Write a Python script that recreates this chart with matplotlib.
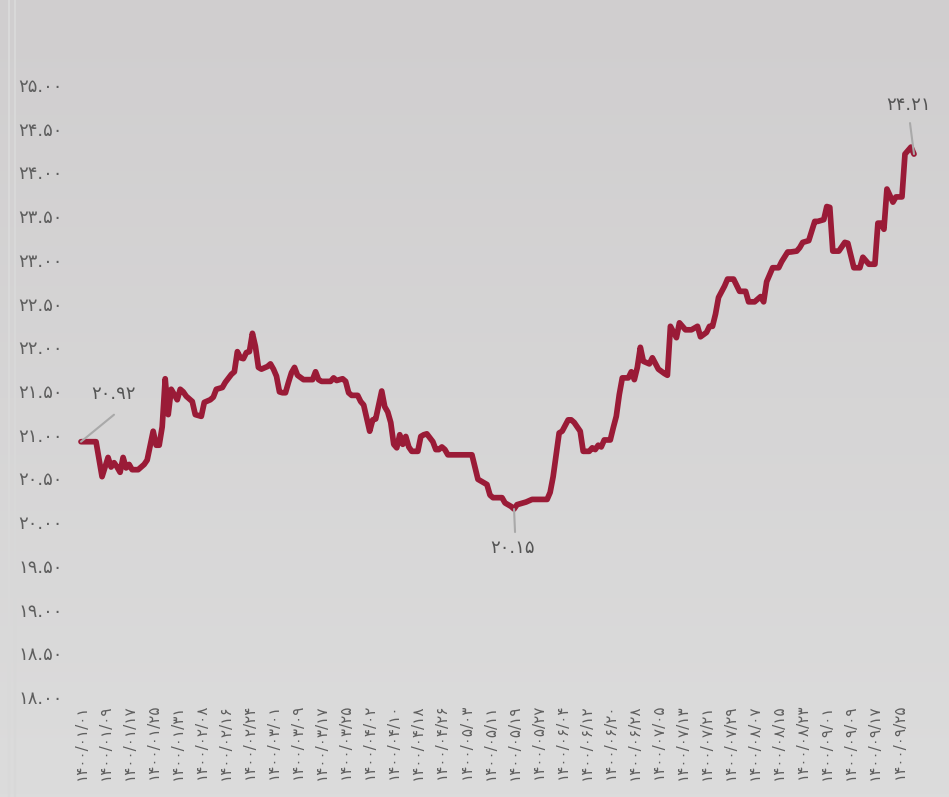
import numpy as np
import matplotlib.pyplot as plt
from matplotlib.colors import LinearSegmentedColormap

plt.rcParams['font.family'] = ['DejaVu Sans']

# trading day index (from 1400/01/01) and rate
days = [0, 5, 7, 9, 10, 11, 12, 13, 14, 15, 16, 17, 19, 21, 22, 24, 25, 26, 27, 28,
        29, 30, 32, 33, 34, 35, 37, 38, 40, 41, 43, 44, 45, 47, 48, 50, 51, 52, 53, 54,
        55, 56, 57, 58, 59, 60, 62, 63, 64, 65, 66, 67, 68, 69, 70, 71, 72, 74, 77, 78,
        79, 80, 83, 84, 85, 87, 88, 89, 90, 92, 93, 94, 96, 97, 98, 100, 101, 102, 103, 104,
        105, 106, 107, 108, 109, 110, 112, 113, 114, 115, 117, 118, 119, 120, 121, 122, 130, 131, 132, 133,
        135, 136, 137, 140, 141, 143, 144, 145, 147, 148, 150, 155, 156, 157, 159, 160, 162, 163, 164, 166,
        167, 169, 170, 171, 172, 173, 174, 176, 177, 178, 179, 180, 182, 183, 184, 185, 186, 187, 189, 190,
        192, 194, 195, 196, 198, 199, 201, 203, 205, 206, 208, 209, 210, 211, 212, 214, 215, 217, 219, 221,
        222, 224, 226, 227, 228, 230, 232, 233, 235, 236, 238, 239, 240, 242, 244, 245, 247, 248, 249, 250,
        252, 254, 255, 257, 259, 260, 262, 264, 265, 266, 267, 268, 270, 271, 273, 274, 276, 277]
rates = [20.92, 20.92, 20.52, 20.74, 20.63, 20.68, 20.63, 20.57, 20.74, 20.62, 20.66, 20.60, 20.60, 20.66, 20.71, 21.04, 20.88, 20.88, 21.09, 21.64,
         21.23, 21.52, 21.40, 21.52, 21.49, 21.44, 21.38, 21.23, 21.21, 21.37, 21.40, 21.43, 21.52, 21.54, 21.60, 21.69, 21.72, 21.95, 21.88, 21.87,
         21.94, 21.95, 22.16, 22.01, 21.77, 21.75, 21.78, 21.81, 21.75, 21.67, 21.49, 21.48, 21.48, 21.60, 21.71, 21.77, 21.68, 21.63, 21.63, 21.72,
         21.63, 21.61, 21.61, 21.65, 21.62, 21.64, 21.61, 21.48, 21.45, 21.45, 21.38, 21.34, 21.04, 21.17, 21.18, 21.50, 21.32, 21.26, 21.14, 20.89,
         20.85, 21.00, 20.89, 20.98, 20.86, 20.81, 20.81, 20.98, 21.00, 21.01, 20.92, 20.83, 20.83, 20.86, 20.83, 20.77, 20.77, 20.63, 20.49, 20.47,
         20.43, 20.31, 20.28, 20.28, 20.22, 20.18, 20.15, 20.20, 20.22, 20.23, 20.26, 20.26, 20.34, 20.52, 21.02, 21.04, 21.17, 21.17, 21.14, 21.04,
         20.81, 20.81, 20.85, 20.83, 20.88, 20.86, 20.94, 20.94, 21.08, 21.21, 21.46, 21.65, 21.65, 21.72, 21.63, 21.77, 22.00, 21.84, 21.81, 21.88,
         21.75, 21.70, 21.68, 22.24, 22.11, 22.28, 22.20, 22.20, 22.24, 22.12, 22.17, 22.24, 22.24, 22.38, 22.57, 22.70, 22.78, 22.78, 22.64, 22.64,
         22.52, 22.52, 22.58, 22.52, 22.75, 22.91, 22.91, 22.98, 23.09, 23.09, 23.10, 23.14, 23.20, 23.22, 23.44, 23.44, 23.46, 23.61, 23.60, 23.10,
         23.10, 23.20, 23.19, 22.91, 22.91, 23.03, 22.95, 22.95, 23.42, 23.42, 23.35, 23.81, 23.66, 23.72, 23.72, 24.21, 24.29, 24.21]

x_ticks = list(range(0, 273, 8))
x_labels = ['۱۴۰۰/۰۱/۰۱', '۱۴۰۰/۰۱/۰۹', '۱۴۰۰/۰۱/۱۷', '۱۴۰۰/۰۱/۲۵', '۱۴۰۰/۰۱/۳۱',
            '۱۴۰۰/۰۲/۰۸', '۱۴۰۰/۰۲/۱۶', '۱۴۰۰/۰۲/۲۴', '۱۴۰۰/۰۳/۰۱', '۱۴۰۰/۰۳/۰۹',
            '۱۴۰۰/۰۳/۱۷', '۱۴۰۰/۰۳/۲۵', '۱۴۰۰/۰۴/۰۲', '۱۴۰۰/۰۴/۱۰', '۱۴۰۰/۰۴/۱۸',
            '۱۴۰۰/۰۴/۲۶', '۱۴۰۰/۰۵/۰۳', '۱۴۰۰/۰۵/۱۱', '۱۴۰۰/۰۵/۱۹', '۱۴۰۰/۰۵/۲۷',
            '۱۴۰۰/۰۶/۰۴', '۱۴۰۰/۰۶/۱۲', '۱۴۰۰/۰۶/۲۰', '۱۴۰۰/۰۶/۲۸', '۱۴۰۰/۰۷/۰۵',
            '۱۴۰۰/۰۷/۱۳', '۱۴۰۰/۰۷/۲۱', '۱۴۰۰/۰۷/۲۹', '۱۴۰۰/۰۸/۰۷', '۱۴۰۰/۰۸/۱۵',
            '۱۴۰۰/۰۸/۲۳', '۱۴۰۰/۰۹/۰۱', '۱۴۰۰/۰۹/۰۹', '۱۴۰۰/۰۹/۱۷', '۱۴۰۰/۰۹/۲۵']
y_ticks = [18.0, 18.5, 19.0, 19.5, 20.0, 20.5, 21.0, 21.5, 22.0, 22.5, 23.0, 23.5, 24.0, 24.5, 25.0]
y_labels = ['۱۸.۰۰', '۱۸.۵۰', '۱۹.۰۰', '۱۹.۵۰', '۲۰.۰۰', '۲۰.۵۰', '۲۱.۰۰', '۲۱.۵۰',
            '۲۲.۰۰', '۲۲.۵۰', '۲۳.۰۰', '۲۳.۵۰', '۲۴.۰۰', '۲۴.۵۰', '۲۵.۰۰']

# labelled points: index into days/rates, text, offsets (pixels) for text and line start
callouts = [(0, '۲۰.۹۲', (32, 48), (33, 27)),
            (106, '۲۰.۱۵', (-2, -39), (1, -23)),
            (len(days) - 1, '۲۴.۲۱', (-5, 49), (-4, 31))]

fig = plt.figure(figsize=(9.49, 7.97), dpi=100)

# soft vertical gradient background
bg = fig.add_axes([0, 0, 1, 1], zorder=-1)
grad = np.linspace(0, 1, 256).reshape(-1, 1)
cmap = LinearSegmentedColormap.from_list('bg', ['#d0cecf', '#dcdcdc'])
bg.imshow(grad, aspect='auto', cmap=cmap, extent=[0, 1, 0, 1])
bg.axvline(0.009, color='#d9d9d9', lw=1.5)
bg.axvline(0.016, color='#d8d8d8', lw=1.5)
bg.set_xlim(0, 1)
bg.set_ylim(0, 1)
bg.axis('off')

ax = fig.add_axes([81 / 949, 100 / 797, 833 / 949, 612 / 797])
ax.patch.set_alpha(0)
ax.plot(days, rates, color='#9a1b37', lw=4.1, solid_joinstyle='round',
        solid_capstyle='round', clip_on=False)

ax.set_xlim(0, 277)
ax.set_ylim(18, 25)
ax.set_yticks(y_ticks)
ax.set_yticklabels(y_labels, fontsize=13, color='#5f5f5f')
ax.set_xticks(x_ticks)
ax.set_xticklabels(x_labels, rotation=90, fontsize=11, color='#5f5f5f')
ax.tick_params(axis='y', length=0, pad=13)
ax.tick_params(axis='x', length=0, pad=5)
for s in ax.spines.values():
    s.set_visible(False)

for idx, txt, toff, loff in callouts:
    pt = (days[idx], rates[idx])
    ax.annotate('', xy=pt, xytext=loff, textcoords='offset pixels',
                arrowprops=dict(arrowstyle='-', color='#a9a9a9', lw=1.5,
                                shrinkA=0, shrinkB=0))
    ax.annotate(txt, xy=pt, xytext=toff, textcoords='offset pixels',
                ha='center', va='center', fontsize=13, color='#555555')

fig.savefig('out.png', dpi=100)
